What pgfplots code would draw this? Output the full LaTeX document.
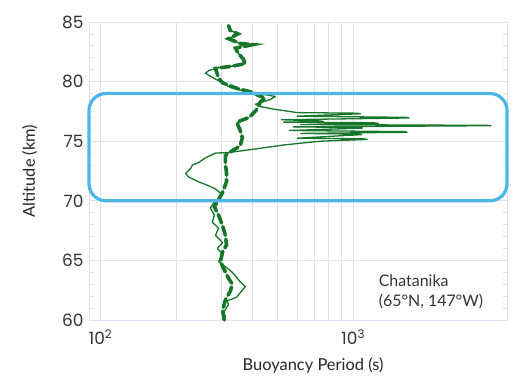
\documentclass[border=0pt]{standalone}
\usepackage{pgfplots}
\pgfplotsset{compat=1.18}
\usepackage{fontspec}
\setmainfont{Poppins}
\newfontfamily\labfont{Lato}
\definecolor{gridc}{RGB}{224,224,246}
\definecolor{dgreen}{RGB}{22,118,42}
\definecolor{boxblue}{RGB}{78,182,230}
\begin{document}
\begin{tikzpicture}
\path[use as bounding box] (-89bp,-59bp) rectangle (424bp,320bp);
\begin{axis}[
  scale only axis, width=418bp, height=298bp,
  xmode=log, xmin=90, xmax=4060, ymin=60, ymax=85,
  xtick={100,1000}, xticklabels={10\textsuperscript{2},10\textsuperscript{3}},
  ytick={60,65,70,75,80,85}, yticklabels={60,65,70,75,80,85},
  minor ytick={61,62,63,64,66,67,68,69,71,72,73,74,76,77,78,79,81,82,83,84},
  xmajorgrids, xminorgrids, ymajorgrids,
  grid style={gridc, line width=0.8bp},
  axis line style={gridc, line width=0.8bp},
  tick style={gridc, line width=0.8bp},
  major tick length=5bp, minor tick length=4bp,
  tick align=inside,
  ticklabel style={font=\fontsize{17}{17}\selectfont, text=black!80},
  xticklabel style={yshift=-6bp},
  yticklabel style={xshift=-2bp},
  xlabel={Buoyancy Period (s)}, ylabel={Altitude (km)},
  label style={font=\labfont\fontsize{16.5}{16.5}\selectfont, text=black!85},
  xlabel style={at={(axis description cs:0.536,-0.154)}, anchor=center},
  ylabel style={at={(axis description cs:-0.142,0.5)}, anchor=center},
  clip=false,
]
% thin solid profile
\addplot[dgreen, line width=1.3bp, line join=round] coordinates {
(304,60.0) (312,60.3) (306,60.6) (321,61.3) (316,61.6) (345,61.9) (374,62.8) (357,63.2) (345,63.6)
(332,64.0) (315,64.4) (293,64.9) (304,65.5) (290,66.0) (304,66.5) (285,67.1)
(293,67.7) (277,68.2) (282,68.8) (272,69.4) (282,69.9) (304,70.5) (285,71.0)
(265,71.3) (244,71.6) (223,72.0) (217,72.3) (227,72.7) (231,73.0) (244,73.2)
(260,73.6) (285,74.0) (320,74.05) (364,74.2) (461,74.5) (539,74.7) (741,75.0)
(1136,75.15) (1100,75.2) (600,75.25) (880,75.45) (1080,75.55) (1050,75.6)
(620,75.65) (1634,75.75) (1600,75.8) (560,75.9) (1086,76.1) (1050,76.15)
(580,76.2) (3510,76.3) (3400,76.33) (620,76.4) (1256,76.5) (1200,76.55)
(530,76.6) (761,76.65) (740,76.7) (520,76.8) (1663,76.95) (1620,77.0)
(600,77.1) (1067,77.3) (1040,77.35) (600,77.4) (480,77.7) (430,77.9)
(410,78.1) (470,78.5) (492,78.75) (449,78.9) (364,79.25) (326,79.5)
(304,79.9) (280,80.3) (260,80.7) (267,80.9) (293,81.2) (332,81.3) (374,81.5)
(367,81.9) (350,82.4) (342,82.8) (370,83.1) (357,83.2) (321,83.6) (350,84.0)
(326,84.3) (321,84.7)
};
% thick dashed profile
\addplot[dgreen, line width=3.6bp, dash pattern=on 9bp off 4bp, line cap=round] coordinates {
(309,60.0) (304,60.8) (312,61.7) (326,62.4) (332,63.0) (321,63.5) (309,64.2)
(298,64.9) (304,65.7) (315,66.3) (312,67.1) (304,67.9) (293,68.8) (282,69.5)
(293,70.1) (304,70.7) (315,71.6) (315,72.4) (312,73.0) (312,73.8) (332,74.2)
(357,74.6) (364,75.3) (357,75.9) (346,76.6) (388,77.0) (417,77.7) (429,78.3)
(449,78.6) (421,78.85) (400,79.1) (350,79.4) (321,79.7) (304,79.9) (293,80.3)
(285,81.1) (332,81.3) (374,81.5) (367,81.9) (350,82.4) (342,82.8) (400,83.1)
(357,83.2) (321,83.6) (350,84.0) (326,84.3) (321,84.7)
};
\draw[boxblue, line width=3.2bp, rounded corners=17bp] (axis cs:90,70) rectangle (axis cs:4060,79);
\node[anchor=west, align=left, font=\labfont\fontsize{16}{20}\selectfont, text=black!80] at (axis cs:1222,62.4) {Chatanika\\(65°N, 147°W)};
\end{axis}
\end{tikzpicture}
\end{document}
